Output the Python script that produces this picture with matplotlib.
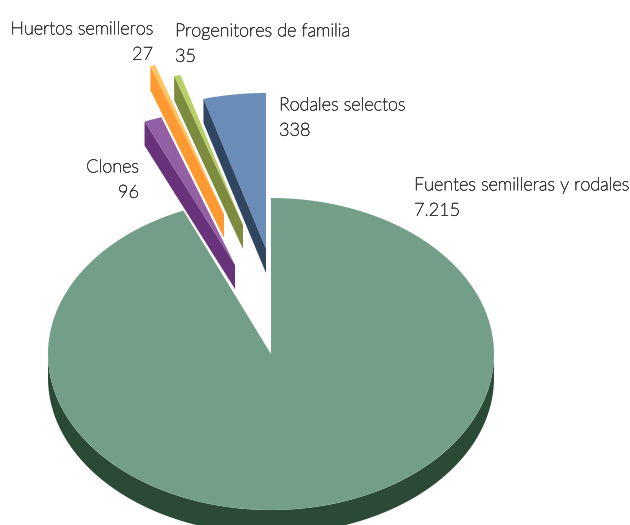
import numpy as np
import matplotlib
matplotlib.use("Agg")
import matplotlib.pyplot as plt
import matplotlib.patheffects as pe

# data
categories = ["Fuentes semilleras y rodales", "Clones", "Huertos semilleros",
              "Progenitores de familia", "Rodales selectos"]
values = [7215, 96, 27, 35, 338]

# colours
top_colors = ["#739F89", "#9360A6", "#FFC35F", "#B8CF66", "#6A8DB8"]
side_colors = ["#2A4A36", "#68337A", "#FF9A33", "#7D8B3F", "#30455F"]

# layout, in pixels
FIG_W, FIG_H = 630, 525
RY, DEPTH = 156, 24
radii_x = [223, 230, 230, 230, 230]
centers = [(271, 354), (235, 265), (224, 214), (243, 225), (266, 249)]
label_pos = [(414, 198, "left"), (139, 180, "right"), (153, 42, "right"),
             (175, 44, "left"), (279, 118, "left")]


def arc(cx, cy, rx, a0, a1, n=200):
    # angles are clockwise from 12 o'clock, squashed for the tilt
    t = np.radians(np.linspace(a0, a1, n))
    return cx + rx * np.sin(t), cy - RY * np.cos(t)


fig = plt.figure(figsize=(FIG_W / 100, FIG_H / 100), dpi=100)
ax = fig.add_axes([0, 0, 1, 1])
ax.set_xlim(0, FIG_W)
ax.set_ylim(FIG_H, 0)
ax.axis("off")

# slices run clockwise from 12 o'clock
sweep = np.array(values) / sum(values) * 360
starts = np.concatenate([[0], np.cumsum(sweep)[:-1]])

for i in range(len(values)):
    cx, cy = centers[i]
    rx = radii_x[i]
    a0, a1 = starts[i], starts[i] + sweep[i]
    x, y = arc(cx, cy, rx, a0, a1)

    ax.fill(np.r_[cx, x], np.r_[cy, y], color=top_colors[i], lw=0)

    if i == 0:
        # outer wall of the big slice, lower half only
        xs, ys = arc(cx, cy, rx, 90, 270)
        ax.fill(np.r_[xs, xs[::-1]], np.r_[ys, ys[::-1] + DEPTH],
                color=side_colors[i], lw=0, zorder=0)
    else:
        # cut face on the left of the exploded slices
        ax.fill([x[0], cx, cx, x[0]], [y[0], cy, cy + DEPTH, y[0] + DEPTH],
                color=side_colors[i], lw=0)

# the light Lato renders too faint, so give it a hair of stroke
stroke = [pe.withStroke(linewidth=0.45, foreground="#404040")]
for name, val, (lx, ly, ha) in zip(categories, values, label_pos):
    txt = name + "\n" + f"{val:,}".replace(",", ".")
    ax.text(lx, ly, txt, ha=ha, va="center", color="#262626", fontsize=13.0,
            family="Lato", fontweight="light", linespacing=1.72,
            path_effects=stroke)

fig.savefig("out.png", dpi=100)
